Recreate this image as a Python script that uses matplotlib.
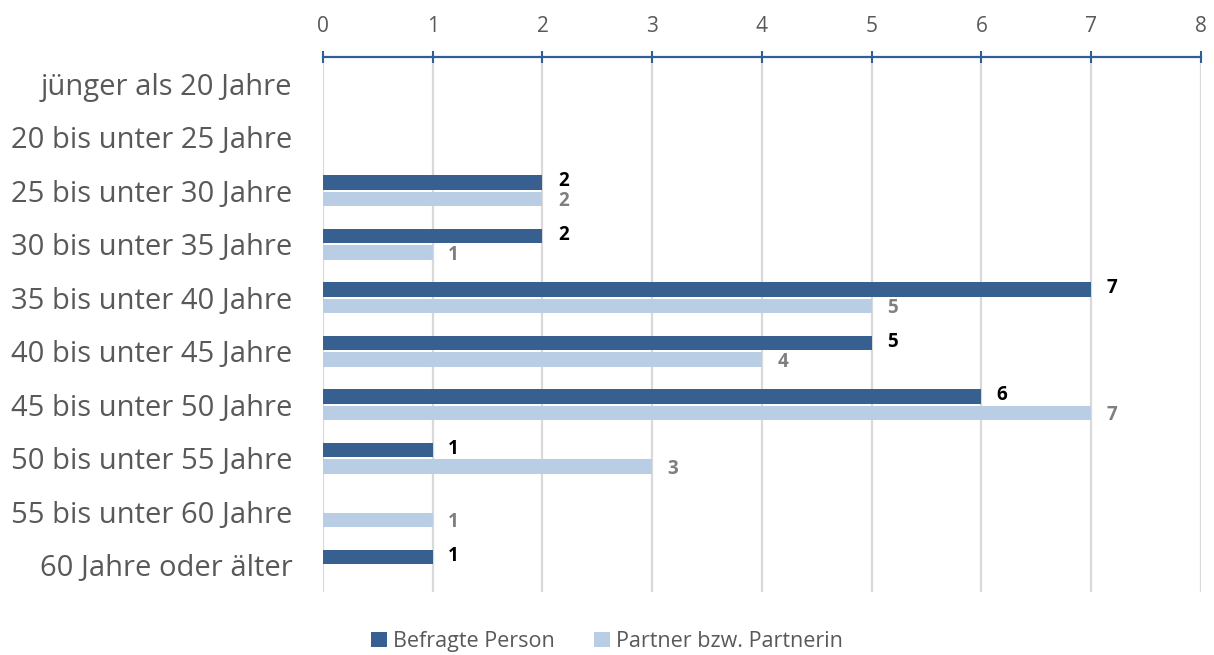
import numpy as np
import matplotlib
matplotlib.use("Agg")
import matplotlib.pyplot as plt

plt.rcParams['font.family'] = ['Open Sans', 'DejaVu Sans']

# Daten
kategorien = ["jünger als 20 Jahre", "20 bis unter 25 Jahre", "25 bis unter 30 Jahre",
              "30 bis unter 35 Jahre", "35 bis unter 40 Jahre", "40 bis unter 45 Jahre",
              "45 bis unter 50 Jahre", "50 bis unter 55 Jahre", "55 bis unter 60 Jahre",
              "60 Jahre oder älter"]
befragte = [0, 0, 2, 2, 7, 5, 6, 1, 0, 1]
partner = [0, 0, 2, 1, 5, 4, 7, 3, 1, 0]
x_ticks = [0, 1, 2, 3, 4, 5, 6, 7, 8]

dunkel = "#375f8f"
hell = "#b9cde5"
achse = "#2f5f94"
grau = "#595959"

fig = plt.figure(figsize=(12.14, 6.55), dpi=100)
ax = fig.add_axes([0.266, 0.0962, 0.7233, 0.8168])

y = np.arange(len(kategorien))
h = 0.27
off = 0.155

ax.barh(y - off, befragte, height=h, color=dunkel, label="Befragte Person", zorder=3)
ax.barh(y + off, partner, height=h, color=hell, label="Partner bzw. Partnerin", zorder=3)

# Beschriftungen (nur Werte > 0)
for i in range(len(kategorien)):
    if befragte[i] > 0:
        ax.text(befragte[i] + 0.14, y[i] - off - 0.02, str(befragte[i]), va="center",
                ha="left", fontsize=13.5, fontweight="bold", color="black")
    if partner[i] > 0:
        ax.text(partner[i] + 0.14, y[i] + off + 0.04, str(partner[i]), va="center",
                ha="left", fontsize=13.5, fontweight="bold", color="#7f7f7f")

ax.set_xlim(0, 8)
ax.set_ylim(len(kategorien) - 0.5, -0.5)
ax.set_xticks(x_ticks)
ax.set_yticks(y)
ax.set_yticklabels(kategorien)

ax.xaxis.tick_top()
ax.tick_params(axis="x", direction="inout", length=9, width=1.5, color=achse,
               labelsize=15, labelcolor=grau, pad=10)
ax.tick_params(axis="y", length=0, labelsize=21, labelcolor=grau, pad=22)

for s in ["left", "right", "bottom"]:
    ax.spines[s].set_visible(False)
ax.spines["top"].set_color(achse)
ax.spines["top"].set_linewidth(1.6)

ax.grid(axis="x", color="#d9d9d9", linewidth=1.6, zorder=0)
ax.set_axisbelow(True)

fig.legend(loc="lower center", bbox_to_anchor=(0.5, -0.025), ncol=2, frameon=False,
           fontsize=15.5, labelcolor=grau, handlelength=0.75, handleheight=0.75,
           handletextpad=0.3, columnspacing=1.8)

fig.savefig("out.png", dpi=100)
